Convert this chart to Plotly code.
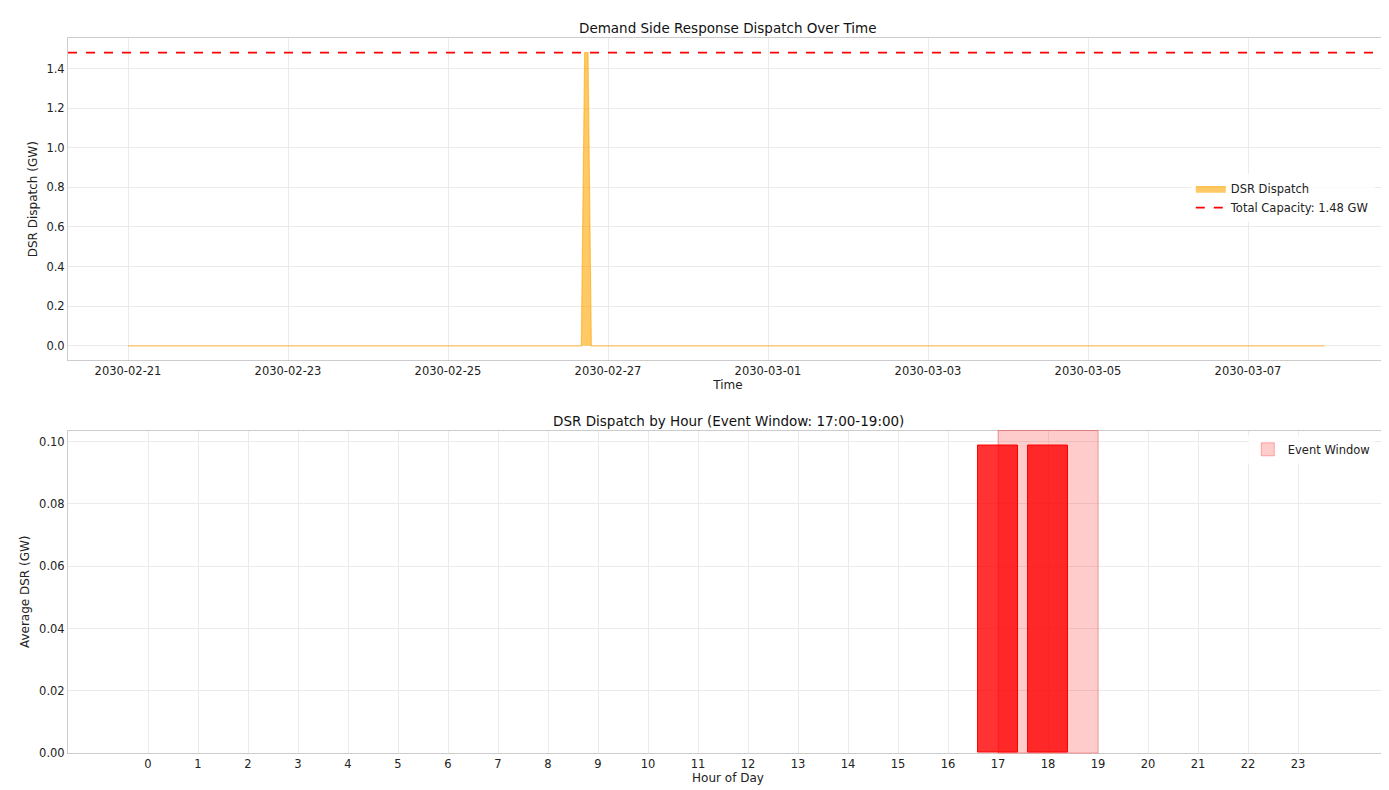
import numpy as np, pandas as pd
import plotly.graph_objects as go
from plotly.subplots import make_subplots

start = "2030-02-21 00:00"
n_hours = 360
event_times = ["2030-02-26 17:00", "2030-02-26 18:00"]
event_values = [1.48, 1.48]
capacity = 1.48
hours = list(range(24))
hourly_avg = [0]*17 + [0.0987, 0.0987] + [0]*5
event_start, event_end = 17, 19

times = pd.date_range(start, periods=n_hours, freq="h")
dispatch = pd.Series(0.0, index=times)
for t, v in zip(event_times, event_values):
    dispatch[pd.Timestamp(t)] = v

fig = make_subplots(rows=2, cols=1, vertical_spacing=0.098,
    subplot_titles=("Demand Side Response Dispatch Over Time",
                    "DSR Dispatch by Hour (Event Window: 17:00-19:00)"))
fig.add_trace(go.Scatter(x=times, y=dispatch.values, mode="lines", fill="tozeroy",
    line=dict(color="rgba(255,165,0,0.6)", width=1.2), fillcolor="rgba(255,165,0,0.6)",
    name="DSR Dispatch", legend="legend"), row=1, col=1)
fig.add_trace(go.Scatter(x=[pd.Timestamp("2030-02-20 06:00"), pd.Timestamp("2030-03-08 18:00")],
    y=[capacity, capacity], mode="lines", line=dict(color="red", dash="dash", width=1.8),
    name=f"Total Capacity: {capacity} GW", legend="legend"), row=1, col=1)
fig.add_trace(go.Bar(x=hours, y=hourly_avg, width=0.8, marker=dict(color="rgba(255,0,0,0.8)",
    line=dict(color="red", width=[1 if v > 0 else 0 for v in hourly_avg])), showlegend=False), row=2, col=1)
fig.add_trace(go.Scatter(x=[None], y=[None], mode="markers",
    marker=dict(symbol="square", size=13, color="rgba(255,0,0,0.2)", line=dict(color="rgba(255,0,0,0.3)", width=1)),
    name="Event Window", legend="legend2"), row=2, col=1)
fig.add_vrect(x0=event_start, x1=event_end, fillcolor="rgba(255,0,0,0.2)",
    line=dict(color="rgba(255,0,0,0.3)", width=1), layer="above", row=2, col=1)

ax = dict(showgrid=True, gridcolor="#ebebeb", showline=True, linecolor="#cccccc", mirror=True,
          zeroline=False, ticks="", tickfont=dict(size=11.5, color="#222"), title_font=dict(size=12))
fig.update_xaxes(**ax)
fig.update_yaxes(**ax)
fig.update_xaxes(range=["2030-02-20 06:00", "2030-03-08 18:00"], dtick=2*86400000,
    tick0="2030-02-21", tickformat="%Y-%m-%d", title_text="Time", title_standoff=2, row=1, col=1)
fig.update_yaxes(range=[-0.074, 1.554], dtick=0.2, tickformat=".1f",
    title_text="DSR Dispatch (GW)", title_standoff=6, row=1, col=1)
fig.update_xaxes(range=[-1.6, 24.8], tickmode="array", tickvals=hours,
    title_text="Hour of Day", title_standoff=2, row=2, col=1)
fig.update_yaxes(range=[0, 0.1036], dtick=0.02, tickformat=".2f",
    title_text="Average DSR (GW)", title_standoff=6, row=2, col=1)
for a in fig.layout.annotations:
    a.font = dict(size=13.5, color="#111")
fig.update_layout(width=1389, height=790, plot_bgcolor="white", paper_bgcolor="white",
    font=dict(family="DejaVu Sans, Arial", size=12, color="#222"),
    margin=dict(l=60, r=9, t=30, b=45), bargap=0,
    legend=dict(x=0.99, y=0.776, xanchor="right", yanchor="middle", bgcolor="rgba(255,255,255,0.8)", font=dict(size=11.5)),
    legend2=dict(x=0.99, y=0.445, xanchor="right", yanchor="top", bgcolor="rgba(255,255,255,0.8)", font=dict(size=11.5)))
fig.write_html("out.html")
